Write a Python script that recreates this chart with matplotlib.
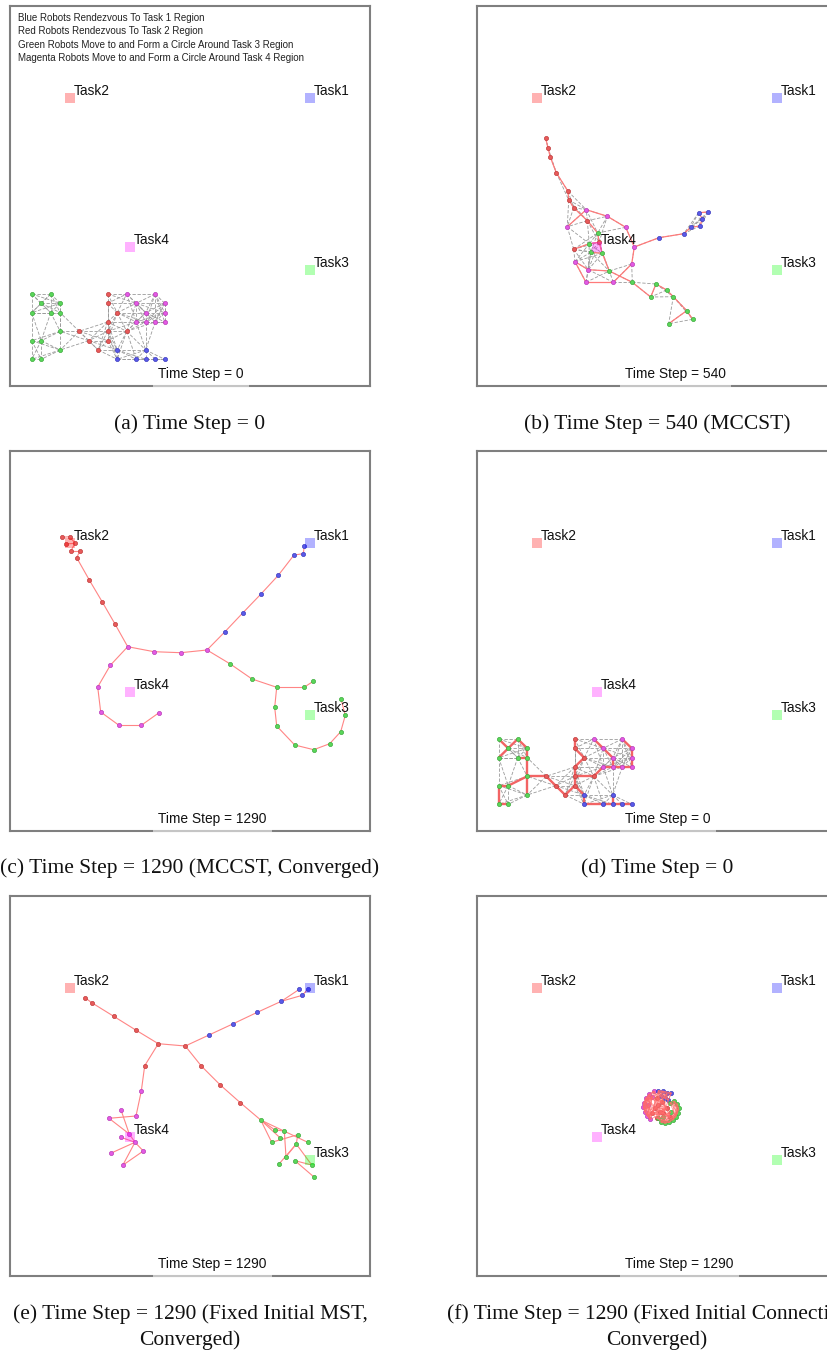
import numpy as np
import matplotlib.pyplot as plt
from matplotlib.collections import LineCollection

plt.rcParams['font.family'] = ['Liberation Sans', 'DejaVu Sans']

W, H = 827, 1352          # figure size in px
PW, PH = 360, 380         # arena size (1 unit = 1 px)

# tasks (arena coords, y down)
TASK_NAMES = ['Task1', 'Task2', 'Task3', 'Task4']
TASK_X = [300, 60, 300, 120]
TASK_Y = [92, 92, 264, 241]
TASK_COLORS = ['#0000ff', '#ff0000', '#00ff00', '#ff00ff']

LEGEND = ['Blue Robots Rendezvous To Task 1 Region',
          'Red Robots Rendezvous To Task 2 Region',
          'Green Robots Move to and Form a Circle Around Task 3 Region',
          'Magenta Robots Move to and Form a Circle Around Task 4 Region']

# robot order in every panel: 10 red, 10 magenta, 7 blue, 13 green
TEAM = 'r' * 10 + 'm' * 10 + 'b' * 7 + 'g' * 13
TEAM_COLOR = {'r': '#e85a5a', 'm': '#e35ae3', 'b': '#5a5ae8', 'g': '#5ad65a'}
TEAM_EDGE = {'r': '#c03c3c', 'm': '#b83cb8', 'b': '#3c3cc0', 'g': '#3caa3c'}

# time step 0 (panels a, d)
POS_0 = [(97.7, 288), (97.7, 297.3), (107.2, 306.7), (97.7, 316), (69.2, 325.3),
         (97.7, 325.3), (116.7, 325.3), (78.7, 334.7), (97.7, 334.7), (88.2, 344),
         (116.7, 288), (145.2, 288), (126.2, 297.3), (154.7, 297.3), (135.7, 306.7),
         (154.7, 306.7), (126.2, 316), (135.7, 316), (145.2, 316), (154.7, 316),
         (107.2, 344), (135.7, 344), (107.2, 353.3), (126.2, 353.3), (135.7, 353.3),
         (145.2, 353.3), (154.7, 353.3),
         (21.7, 288), (40.7, 288), (31.2, 297.3), (50.2, 297.3), (21.7, 306.7),
         (40.7, 306.7), (50.2, 306.7), (50.2, 325.3), (21.7, 334.7), (31.2, 334.7),
         (50.2, 344), (21.7, 353.3), (31.2, 353.3)]
TREE_0 = [(27, 29), (28, 29), (29, 31), (28, 30), (30, 33), (32, 33), (33, 34), (34, 4),
          (34, 37), (34, 36), (36, 35), (35, 38), (38, 39),
          (0, 1), (1, 2), (2, 3), (3, 5), (5, 8), (5, 6), (8, 9), (9, 7), (7, 4), (8, 20),
          (20, 22), (22, 23), (23, 24), (24, 25), (25, 26), (21, 24),
          (10, 12), (12, 14), (14, 17), (16, 17), (17, 18), (18, 19), (19, 15), (15, 13),
          (13, 11), (6, 16)]

# time step 540, MCCST (panel b)
POS_540 = [(68.7, 132.3), (71, 141.7), (73.3, 151), (79.3, 166.7), (91, 185.3),
           (91.7, 194), (96.7, 201.7), (110.3, 214.7), (96.7, 243.3), (122, 236.3),
           (109.3, 203.7), (130.3, 210.3), (90.3, 220.7), (148.7, 221.3), (157.3, 241),
           (98, 255.7), (111.3, 263.7), (154.7, 258), (109, 276.3), (136.3, 276.3),
           (221.7, 206.7), (231.3, 206), (225.3, 212.7), (223, 220), (213.7, 221.3),
           (206.7, 227.7), (182, 231.7),
           (120.7, 227), (112.3, 237.7), (113.7, 246.3), (125.3, 247.3), (132.3, 265),
           (155.3, 276.3), (179, 278), (189.7, 284), (196.3, 290.7), (173.7, 291),
           (209.7, 304.7), (215.7, 313.3), (191.7, 317.7)]
TREE_540 = [(0, 1), (1, 2), (2, 3), (3, 4), (4, 5), (5, 6), (6, 7), (7, 27), (27, 9),
            (9, 28), (28, 8), (9, 30), (29, 30), (30, 31), (31, 32), (12, 10), (10, 11),
            (11, 13), (13, 14), (14, 26), (26, 25), (25, 24), (24, 23), (23, 22), (22, 20),
            (20, 21), (14, 17), (17, 19), (19, 18), (18, 15), (15, 16), (16, 31), (32, 36),
            (36, 33), (33, 34), (34, 35), (35, 37), (37, 38), (37, 39)]

# time step 1290, MCCST converged (panel c)
POS_C = [(51.7, 86.3), (60, 85.7), (56, 93), (65, 92.3), (61, 99.7), (70, 99.7),
         (66.7, 106.7), (79.3, 129), (92.3, 151), (105, 173),
         (117.7, 195.7), (144, 200.7), (170.7, 201.7), (197, 199), (100.3, 214.3),
         (87.7, 236), (90.7, 261), (109, 274.3), (131.3, 274.3), (149, 261.7),
         (294.3, 95), (293.3, 102.7), (284, 104), (268.3, 124.3), (250.7, 143.3),
         (232.7, 162), (215, 180.7),
         (220.3, 213), (242, 228), (266.7, 236.3), (294, 236.3), (303.3, 230.3),
         (264.7, 256.3), (266.7, 275), (284.7, 294), (303.7, 298.7), (319.7, 292.7),
         (330.7, 280.7), (335.3, 264.3), (331, 248)]
TREE_C = [(0, 1), (1, 3), (2, 3), (3, 4), (4, 5), (5, 6), (6, 7), (7, 8), (8, 9), (9, 10),
          (10, 11), (11, 12), (12, 13), (10, 14), (14, 15), (15, 16), (16, 17), (17, 18),
          (18, 19), (13, 26), (26, 25), (25, 24), (24, 23), (23, 22), (22, 21), (21, 20),
          (13, 27), (27, 28), (28, 29), (29, 30), (30, 31), (29, 32), (32, 33), (33, 34),
          (34, 35), (35, 36), (36, 37), (37, 38), (38, 39)]

# time step 1290, fixed initial MST (panel e)
POS_E = [(75, 101.7), (81.7, 106.7), (103.7, 120.3), (125.7, 134), (148.3, 147.7),
         (175.3, 150), (134.7, 169.7), (191.3, 170), (210.3, 189), (230.3, 206.7),
         (131.3, 195), (126, 220), (111, 214), (99, 222.3), (119.3, 238), (111, 241.3),
         (125, 246.3), (133.3, 255), (101.3, 257), (112.7, 269.3),
         (199, 139), (223.3, 127.7), (247.3, 116.3), (271.3, 105.3), (292.3, 99.3),
         (289.3, 93.3), (298.3, 92.7),
         (250.7, 224), (265, 234), (274.3, 235), (261.7, 246.3), (270, 241.7),
         (287.7, 238.7), (297.7, 246.3), (286.3, 248), (276, 260.7), (285, 264.7),
         (269, 268), (301.7, 269), (304.3, 281.3)]
TREE_E = [(0, 1), (1, 2), (2, 3), (3, 4), (4, 5), (4, 6), (6, 10), (10, 11), (5, 7),
          (7, 8), (8, 9), (9, 27), (5, 20), (20, 21), (21, 22), (22, 23), (23, 24),
          (23, 25), (24, 26),
          (11, 13), (13, 14), (12, 14), (14, 16), (15, 16), (16, 18), (16, 17), (17, 19),
          (16, 19),
          (27, 28), (27, 30), (27, 31), (27, 33), (28, 29), (29, 35), (30, 32), (32, 34),
          (34, 35), (34, 37), (34, 38), (36, 38), (36, 39)]

# time step 1290, fixed initial connected graph (panel f)
POS_F = [(179.7, 202.3), (184.7, 205.7), (178, 212.3), (189.7, 212.3), (183, 215.7),
         (174.7, 217.3), (186.3, 217.3), (179.7, 222.3), (193, 220.7), (181.3, 209),
         (177, 195), (172.3, 198), (168.7, 202.3), (166.7, 206.7), (166.3, 211.3),
         (167.7, 216), (170.3, 220), (173, 223.3), (175, 200.7), (171.3, 209),
         (181.3, 194.7), (185.7, 195), (189.7, 197.3), (194.3, 197), (188, 202.3),
         (183.7, 200), (191.3, 204),
         (193, 206.7), (197, 205), (200.3, 208), (201.7, 212.3), (200.7, 216.7),
         (198.7, 220.7), (195.7, 224), (192, 226.3), (188, 227.3), (184, 226.3),
         (181.3, 222.3), (186.3, 220.7), (193.7, 215.7)]

COMM_RADIUS = 30.5


def comm_pairs(pos, radius):
    p = np.asarray(pos)
    d = np.hypot(p[:, None, 0] - p[None, :, 0], p[:, None, 1] - p[None, :, 1])
    ii, jj = np.where(np.triu(d <= radius, 1))
    return list(zip(ii, jj))


def draw_links(ax, pos, pairs, **kw):
    segs = [[pos[i], pos[j]] for i, j in pairs]
    ax.add_collection(LineCollection(segs, **kw))


fig = plt.figure(figsize=(W / 100, H / 100), dpi=100)


def panel(left, top, pos, step, gray=None, tree=None, tree_kw=None, legend=False,
          tree_z=2):
    ax = fig.add_axes([left / W, 1 - (top + PH) / H, PW / W, PH / H])
    ax.set_xlim(0, PW)
    ax.set_ylim(PH, 0)
    ax.set_xticks([])
    ax.set_yticks([])
    for s in ax.spines.values():
        s.set_color('#7f7f7f')
        s.set_linewidth(1.5)

    if gray:
        draw_links(ax, pos, gray, colors='#9a9a9a', linewidths=0.6,
                   linestyles=(0, (4, 2)), zorder=1)
    if tree:
        draw_links(ax, pos, tree, zorder=tree_z, **tree_kw)

    for t in 'rmbg':
        pts = np.array([p for p, c in zip(pos, TEAM) if c == t])
        ax.plot(pts[:, 0], pts[:, 1], 'o', ls='none', ms=3.0, mfc=TEAM_COLOR[t],
                mec=TEAM_EDGE[t], mew=0.5, zorder=3)

    for name, x, y, c in zip(TASK_NAMES, TASK_X, TASK_Y, TASK_COLORS):
        ax.plot(x, y, 's', ms=6.7, color=c, alpha=0.3, mew=0, zorder=4)
        ax.annotate(name, (x, y), xytext=(3, 2.2), textcoords='offset points',
                    fontsize=9.9, color='#111111', zorder=5)

    ax.text(148, 372, f'Time Step = {step}', fontsize=9.9, color='#111111',
            ha='left', va='baseline', zorder=6,
            bbox=dict(facecolor='white', edgecolor='none', alpha=0.55, pad=4))

    if legend:
        for k, line in enumerate(LEGEND):
            ax.text(8.3, 14.7 + 13.5 * k, line, fontsize=7, color='#222222',
                    va='baseline')
    return ax


gray0 = comm_pairs(POS_0, COMM_RADIUS)
gray540 = comm_pairs(POS_540, COMM_RADIUS)

panel(10, 6, POS_0, 0, gray=gray0, legend=True)
panel(477, 6, POS_540, 540, gray=gray540, tree=TREE_540,
      tree_kw=dict(colors='#ff7a7a', linewidths=0.9))
panel(10, 451, POS_C, 1290, tree=TREE_C,
      tree_kw=dict(colors='#ff8585', linewidths=0.8))
panel(477, 451, POS_0, 0, gray=gray0, tree=TREE_0,
      tree_kw=dict(colors='#f26464', linewidths=1.7))
panel(10, 896, POS_E, 1290, tree=TREE_E,
      tree_kw=dict(colors='#ff8585', linewidths=0.8))
# the fixed initial graph keeps every t=0 link, drawn over the converged robots
panel(477, 896, POS_F, 1290, tree=gray0, tree_z=3.5,
      tree_kw=dict(colors='#ff6b6b', linewidths=0.6, alpha=0.7))

CAPTIONS = [(190, 424, '(a) Time Step = 0'),
            (657, 424, '(b) Time Step = 540 (MCCST)'),
            (190, 868, '(c) Time Step = 1290 (MCCST, Converged)'),
            (657, 868, '(d) Time Step = 0'),
            (190, 1314, '(e) Time Step = 1290 (Fixed Initial MST,'),
            (190, 1340, 'Converged)'),
            (657, 1314, '(f) Time Step = 1290 (Fixed Initial Connectivity,'),
            (657, 1340, 'Converged)')]
for x, y, s in CAPTIONS:
    fig.text(x / W, 1 - y / H, s, ha='center', va='center', fontsize=15.5,
             family=['Liberation Serif', 'DejaVu Serif'], color='#111111')

fig.savefig('out.png', dpi=100)
